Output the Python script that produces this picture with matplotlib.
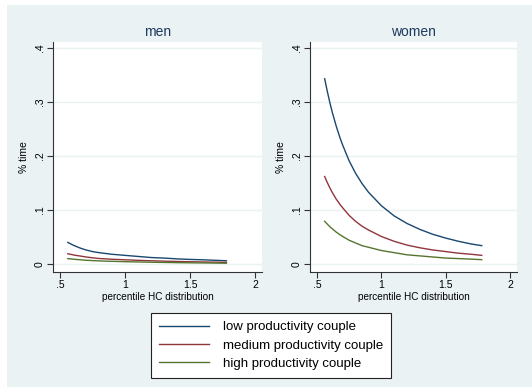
import matplotlib
matplotlib.use("Agg")
import matplotlib.pyplot as plt
from matplotlib.patches import Rectangle

plt.rcParams["font.family"] = ["Liberation Sans", "DejaVu Sans"]

x = [0.56, 0.58, 0.60, 0.62, 0.65, 0.68, 0.70, 0.75, 0.80, 0.85, 0.90, 1.00, 1.10, 1.20, 1.30, 1.40, 1.50, 1.60, 1.70, 1.78]

men_low = [0.040, 0.0375, 0.035, 0.033, 0.030, 0.0275, 0.026, 0.023, 0.021, 0.0195, 0.018, 0.016, 0.014, 0.012, 0.011, 0.0095, 0.0085, 0.0078, 0.0068, 0.006]
men_med = [0.019, 0.018, 0.017, 0.016, 0.015, 0.0138, 0.013, 0.0115, 0.0102, 0.0095, 0.0088, 0.0078, 0.0068, 0.006, 0.0053, 0.0047, 0.0042, 0.0038, 0.0034, 0.003]
men_high = [0.010, 0.0095, 0.009, 0.0085, 0.008, 0.0073, 0.007, 0.0063, 0.0058, 0.0053, 0.005, 0.0043, 0.0038, 0.0033, 0.0029, 0.0025, 0.0022, 0.002, 0.0017, 0.0015]

women_low = [0.343, 0.320, 0.299, 0.280, 0.255, 0.233, 0.220, 0.191, 0.168, 0.149, 0.133, 0.108, 0.089, 0.075, 0.064, 0.055, 0.048, 0.042, 0.037, 0.034]
women_med = [0.162, 0.151, 0.141, 0.132, 0.120, 0.110, 0.104, 0.090, 0.079, 0.070, 0.063, 0.051, 0.042, 0.035, 0.030, 0.026, 0.023, 0.020, 0.018, 0.016]
women_high = [0.079, 0.074, 0.069, 0.065, 0.059, 0.054, 0.051, 0.044, 0.039, 0.034, 0.031, 0.025, 0.021, 0.017, 0.015, 0.013, 0.011, 0.010, 0.009, 0.008]

panel_titles = ["men", "women"]
series_labels = ["low productivity couple", "medium productivity couple", "high productivity couple"]
xticks = [0.5, 1, 1.5, 2]
xtick_labels = [".5", "1", "1.5", "2"]
yticks = [0, 0.1, 0.2, 0.3, 0.4]
ytick_labels = ["0", ".1", ".2", ".3", ".4"]

colors = ["#1a476f", "#90353b", "#55752f"]
bg = "#eaf2f3"
W, H = 532, 387

fig = plt.figure(figsize=(W / 100, H / 100), dpi=100, facecolor="white")
fig.patches.append(Rectangle((7 / W, 0), 1 - 7 / W, 1 - 5 / H, transform=fig.transFigure,
                             facecolor=bg, edgecolor="none", zorder=-10))

def fx(px):
    return px / W

def fy(py):
    return 1 - py / H

panels = [(53, 262), (310, 517)]
data = [[men_low, men_med, men_high], [women_low, women_med, women_high]]
top, bottom = 42, 272
handles = None
for (l, r), title, ser in zip(panels, panel_titles, data):
    ax = fig.add_axes([fx(l), fy(bottom), fx(r) - fx(l), fy(top) - fy(bottom)])
    ax.set_facecolor("white")
    hs = []
    for vals, c, lab in zip(ser, colors, series_labels):
        h, = ax.plot(x, vals, color=c, lw=1.0, label=lab)
        hs.append(h)
    handles = hs
    ax.set_xlim(0.446, 2.054)
    ax.set_ylim(-0.0148, 0.411)
    ax.set_xticks(xticks)
    ax.set_xticklabels(xtick_labels, fontsize=7.5)
    ax.set_yticks(yticks)
    ax.set_yticklabels(ytick_labels, fontsize=7.5, rotation=90, va="center")
    ax.grid(axis="y", color=bg, lw=1.0)
    ax.set_axisbelow(True)
    for s in ["top", "right"]:
        ax.spines[s].set_visible(False)
    for s in ["left", "bottom"]:
        ax.spines[s].set_color("#333333")
        ax.spines[s].set_linewidth(0.8)
    ax.tick_params(length=4, width=0.8, color="#333333", pad=2)
    ax.set_xlabel("percentile HC distribution", fontsize=7.2, labelpad=1)
    ax.set_ylabel("% time", fontsize=7.5, labelpad=4)
    ax.set_title(title, fontsize=10, color="#1e3a5f", pad=4)

leg = fig.legend(handles, series_labels, loc="center",
                 bbox_to_anchor=(fx(271), fy(345.5)), fontsize=9.5, frameon=True,
                 fancybox=False, handlelength=3.8, handletextpad=1.0,
                 labelspacing=0.45, borderpad=0.6)
leg.get_frame().set_edgecolor("#222222")
leg.get_frame().set_facecolor("white")
leg.get_frame().set_alpha(1)
leg.get_frame().set_linewidth(0.8)

fig.savefig("out.png", dpi=100, facecolor=fig.get_facecolor())
